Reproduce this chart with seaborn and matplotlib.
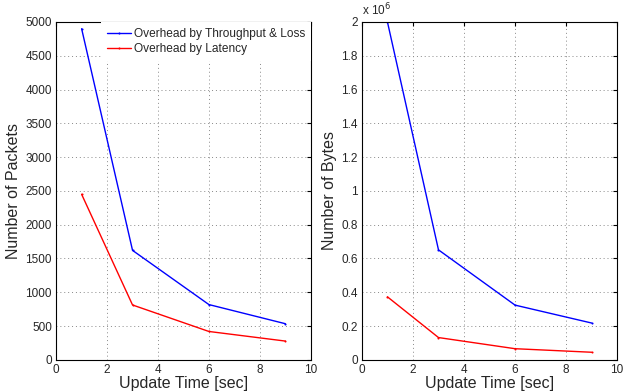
import numpy as np
import pandas as pd
import matplotlib
matplotlib.use("Agg")
import matplotlib.pyplot as plt
from matplotlib.ticker import FuncFormatter, MultipleLocator
import seaborn as sns

# Data
update_time = [1, 3, 6, 9]
packets_tput_loss = [4900, 1620, 818, 535]
packets_latency = [2450, 812, 420, 278]
bytes_tput_loss = [2.0e6, 0.651e6, 0.324e6, 0.218e6]
bytes_latency = [0.373e6, 0.132e6, 0.066e6, 0.045e6]
series_names = ["Overhead by Throughput & Loss", "Overhead by Latency"]
series_colors = ["#0000ff", "#ff0000"]

pkt_df = pd.DataFrame({
    "time": update_time * 2,
    "value": packets_tput_loss + packets_latency,
    "series": [series_names[0]] * 4 + [series_names[1]] * 4,
})
byte_df = pd.DataFrame({
    "time": update_time * 2,
    "value": bytes_tput_loss + bytes_latency,
    "series": [series_names[0]] * 4 + [series_names[1]] * 4,
})

sns.set_style("white")
plt.rcParams["font.family"] = ["Liberation Sans", "DejaVu Sans"]

fig = plt.figure(figsize=(6.24, 3.92), dpi=100)
ax1 = fig.add_axes([0.090, 0.082, 0.408, 0.862])
ax2 = fig.add_axes([0.580, 0.082, 0.409, 0.862])

palette = dict(zip(series_names, series_colors))

for ax, df in [(ax1, pkt_df), (ax2, byte_df)]:
    sns.lineplot(data=df, x="time", y="value", hue="series", palette=palette,
                 marker=".", markersize=3, markeredgewidth=0, linewidth=1,
                 ax=ax, legend=(ax is ax1))
    ax.set_xlim(0, 10)
    ax.xaxis.set_major_locator(MultipleLocator(2))
    ax.grid(True, linestyle=(0, (1, 3)), color="#888888", linewidth=0.7)
    ax.tick_params(direction="in", length=3, labelsize=8.5, top=True, right=True,
                   color="black", pad=3)
    for s in ax.spines.values():
        s.set_color("black")
        s.set_linewidth(0.8)
    ax.set_xlabel("Update Time [sec]", fontsize=11.5, labelpad=0)

ax1.set_ylim(0, 5000)
ax1.yaxis.set_major_locator(MultipleLocator(500))
ax1.set_ylabel("Number of Packets", fontsize=11.5, labelpad=3)

ax2.set_ylim(0, 2e6)
ax2.yaxis.set_major_locator(MultipleLocator(0.2e6))
ax2.yaxis.set_major_formatter(FuncFormatter(lambda v, p: f"{v / 1e6:g}"))
ax2.set_ylabel("Number of Bytes", fontsize=11.5, labelpad=3)
ax2.text(0.0, 1.01, r"x 10$^6$", transform=ax2.transAxes, fontsize=8.5,
         ha="left", va="bottom")

leg = ax1.legend(loc="upper right", fontsize=8.6, frameon=True, fancybox=False,
                 borderaxespad=0.0, handlelength=2.0, handletextpad=0.25,
                 labelspacing=0.25, borderpad=0.5)
leg.get_frame().set_edgecolor("none")
leg.get_frame().set_facecolor("white")
leg.get_frame().set_alpha(1)

fig.savefig("out.png", dpi=100)
